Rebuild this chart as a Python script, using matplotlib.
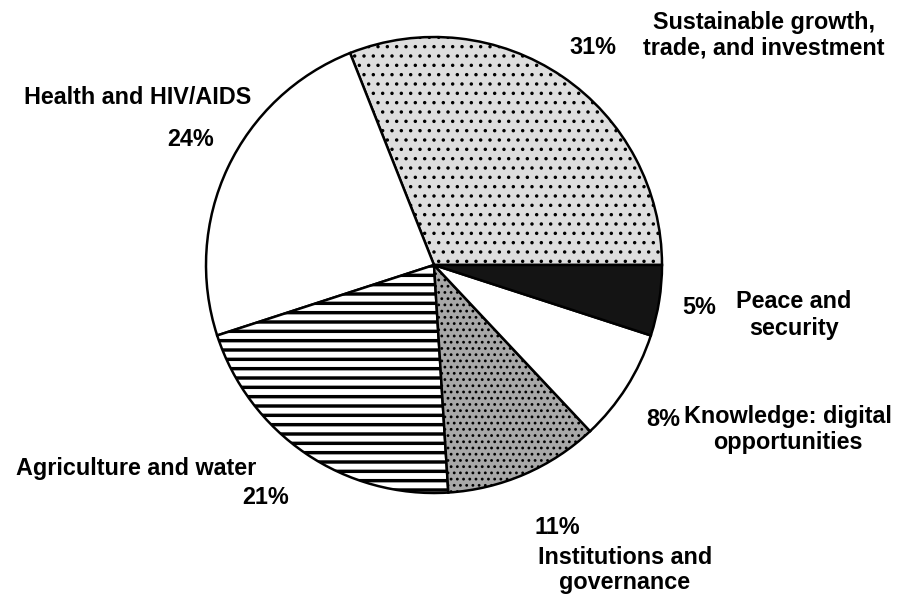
import matplotlib
matplotlib.use('Agg')
import matplotlib.pyplot as plt

# shares of the programme, counter-clockwise from 3 o'clock
categories = ['Sustainable growth,\ntrade, and investment', 'Health and HIV/AIDS',
              'Agriculture and water', 'Institutions and\ngovernance',
              'Knowledge: digital\nopportunities', 'Peace and\nsecurity']
shares = [31, 24, 21, 11, 8, 5]

fills = ['#dedede', 'white', 'white', '#a8a8a8', 'white', '#141414']
hatches = ['..', None, '--', '...', None, None]

# label placement in pixels from the top-left corner (name lines, then percent)
name_xy = [(764, 22), (138, 98), (136, 468), (625, 557), (788, 417), (794, 302)]
pct_xy = [(593, 47), (191, 140), (266, 497), (557, 527), (663, 420), (699, 308)]

W, H, DPI = 898, 596, 112
plt.rcParams['font.family'] = ['Liberation Sans', 'DejaVu Sans']
plt.rcParams['hatch.linewidth'] = 2.2

fig = plt.figure(figsize=(W / DPI, H / DPI), dpi=DPI)
ax = fig.add_axes([0, 0, 1, 1])
wedges, _ = ax.pie(shares, startangle=0, counterclock=True, colors=fills,
                   hatch=hatches, radius=228, center=(434, H - 265),
                   wedgeprops=dict(edgecolor='black', linewidth=1.6))
for w, h in zip(wedges, hatches):
    if h and '.' in h and hasattr(w, 'set_hatch_linewidth'):
        w.set_hatch_linewidth(1.0)
ax.set_xlim(0, W)
ax.set_ylim(0, H)
ax.axis('off')

fs = 15
for name, (x, y) in zip(categories, name_xy):
    for i, line in enumerate(name.split('\n')):
        ax.text(x, H - y - i * 26, line, ha='center', va='center',
                fontsize=fs, fontweight='bold')
for v, (x, y) in zip(shares, pct_xy):
    ax.text(x, H - y, f'{v}%', ha='center', va='center', fontsize=fs, fontweight='bold')

fig.savefig('out.png', dpi=DPI)
